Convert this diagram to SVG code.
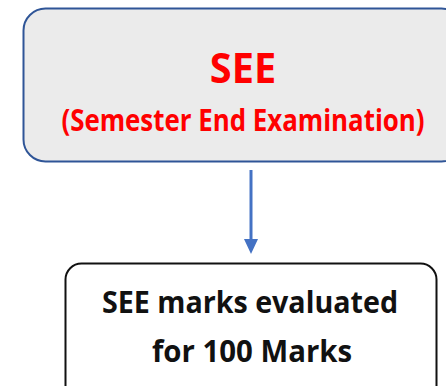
<svg xmlns="http://www.w3.org/2000/svg" width="446" height="386" viewBox="0 0 446 386">
<style>
.t{font-family:"Open Sans","Noto Sans","Liberation Sans",sans-serif;font-weight:bold;text-anchor:middle}
.red{fill:#ff0000}
.blk{fill:#111}
</style>
<rect width="446" height="386" fill="#ffffff"/>
<g id="see">
<rect x="23.5" y="8.5" width="440" height="153" rx="22" fill="#ebebeb" stroke="#2f5597" stroke-width="2"/>
<text class="t red" transform="translate(243,83) scale(0.85,1)" x="0" y="0" font-size="42" textLength="78" lengthAdjust="spacingAndGlyphs">SEE</text>
<text class="t red" transform="translate(243,131) scale(0.8,1)" x="0" y="0" font-size="31" textLength="454" lengthAdjust="spacingAndGlyphs">(Semester End Examination)</text>
</g>
<g id="connectors">
<line x1="251" y1="170" x2="251" y2="240" stroke="#4472c4" stroke-width="3"/>
<polygon points="244,239 258,239 251,254" fill="#4472c4"/>
</g>
<g id="marks">
<rect x="65.5" y="263.5" width="371" height="140" rx="16" fill="#ffffff" stroke="#111" stroke-width="2"/>
<text class="t blk" transform="translate(250,313) scale(0.82,1)" x="0" y="0" font-size="30" textLength="361" lengthAdjust="spacingAndGlyphs">SEE marks evaluated</text>
<text class="t blk" transform="translate(252,362) scale(0.82,1)" x="0" y="0" font-size="30" textLength="244" lengthAdjust="spacingAndGlyphs">for 100 Marks</text>
</g>
</svg>
